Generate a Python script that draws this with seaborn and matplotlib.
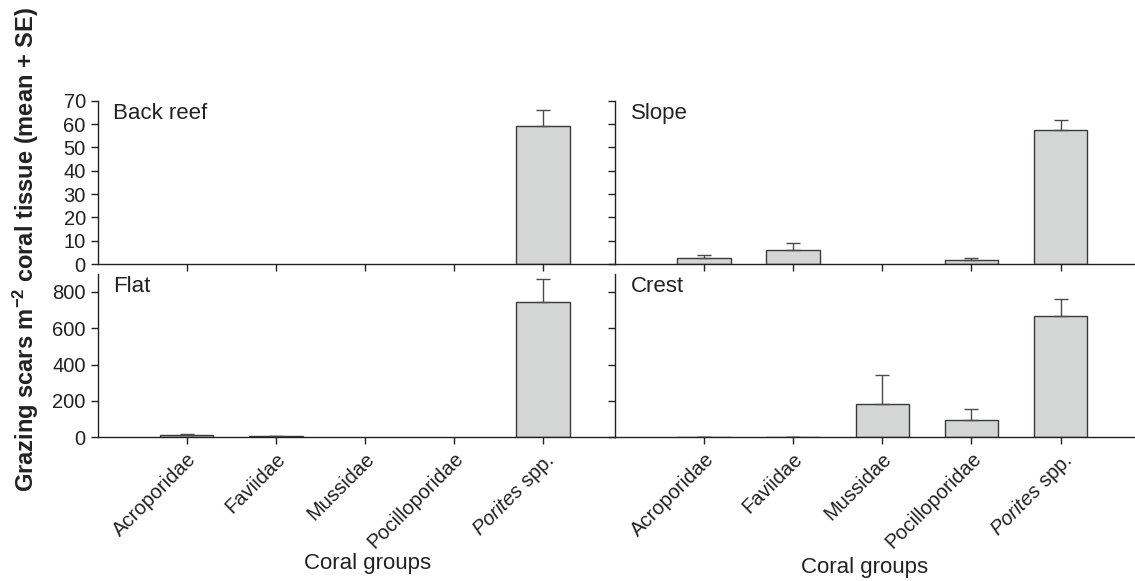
import numpy as np
import pandas as pd
import matplotlib
matplotlib.use("Agg")
import matplotlib.pyplot as plt
import seaborn as sns

# coral groups (x categories)
groups = ["Acroporidae", "Faviidae", "Mussidae", "Pocilloporidae", "Porites spp."]
tick_labels = ["Acroporidae", "Faviidae", "Mussidae", "Pocilloporidae", r"$\it{Porites}$ spp."]

# grazing scars m-2 coral tissue, mean and SE, per reef zone
back_reef_mean = [0, 0, 0, 0, 59]
back_reef_se = [0, 0, 0, 0, 7]
slope_mean = [2.4, 6.0, 0, 1.6, 57.6]
slope_se = [1.3, 2.9, 0, 1.1, 4.3]
flat_mean = [11, 5, 0, 0, 742]
flat_se = [7, 3, 0, 0, 127]
crest_mean = [3, 2, 185, 95, 668]
crest_se = [1, 1, 155, 61, 92]

panels = [
    ("Back reef", back_reef_mean, back_reef_se),
    ("Slope", slope_mean, slope_se),
    ("Flat", flat_mean, flat_se),
    ("Crest", crest_mean, crest_se),
]

sns.set_style("ticks")
plt.rcParams["font.family"] = ["Liberation Sans", "DejaVu Sans"]
plt.rcParams["mathtext.fontset"] = "custom"
plt.rcParams["mathtext.it"] = "Liberation Sans:italic"
plt.rcParams["mathtext.rm"] = "Liberation Sans"
plt.rcParams["mathtext.bf"] = "Liberation Sans:bold"

W, H = 1135, 581
fig = plt.figure(figsize=(W / 100, H / 100), dpi=100)

# axes boxes in pixels: left, top, right, bottom
boxes = [
    (97.6, 100.7, 615, 264),
    (615, 100.7, 1135, 264),
    (97.6, 273.5, 615, 437.3),
    (615, 273.5, 1135, 437.3),
]

bar_color = "#d4d6d5"
edge_color = "#3a3a3a"
err_color = "#4a4a4a"

for i, (name, mean, se) in enumerate(panels):
    l, t, r, b = boxes[i]
    ax = fig.add_axes([l / W, 1 - b / H, (r - l) / W, (b - t) / H])
    df = pd.DataFrame({"group": groups, "mean": mean, "se": se})
    sns.barplot(data=df, x="group", y="mean", order=groups, ax=ax,
                color=bar_color, edgecolor=edge_color, linewidth=1.0,
                width=0.6, errorbar=None, saturation=1)
    # hide outlines of empty bars
    for p, v in zip(ax.patches, mean):
        if v == 0:
            p.set_visible(False)
    x = np.arange(len(groups))
    m = np.array(mean, dtype=float)
    s = np.array(se, dtype=float)
    show = m > 0
    ax.errorbar(x[show], m[show], yerr=[np.zeros(show.sum()), s[show]],
                fmt="none", ecolor=err_color, elinewidth=1.0, capsize=5, capthick=1.0)

    ax.set_xlim(-1, (r - l) / 89.1 - 1)
    top = i < 2
    left = i % 2 == 0
    if top:
        ax.set_ylim(0, 70)
        ax.set_yticks(range(0, 71, 10))
        ax.tick_params(axis="x", labelbottom=False)
    else:
        ax.set_ylim(0, 900)
        ax.set_yticks(range(0, 801, 200))
        ax.set_xticks(x)
        ax.set_xticklabels(tick_labels, rotation=45, ha="right",
                           rotation_mode="anchor", fontsize=14.5)
    if not left:
        ax.tick_params(axis="y", labelleft=False)
    ax.tick_params(axis="both", direction="out", length=5, width=1, colors="#222222",
                   labelsize=14.5)
    ax.set_xlabel("")
    ax.set_ylabel("")
    for sp in ["top", "right"]:
        ax.spines[sp].set_visible(False)
    for sp in ["left", "bottom"]:
        ax.spines[sp].set_linewidth(1.0)
        ax.spines[sp].set_color("#222222")
    ax.patch.set_alpha(0)
    ax.text(0.03, 0.985, name, transform=ax.transAxes, ha="left", va="top",
            fontsize=16, color="#222222")

fig.text(368 / W, 1 - 563 / H, "Coral groups", ha="center", va="center",
         fontsize=16, color="#222222")
fig.text(865 / W, 1 - 567 / H, "Coral groups", ha="center", va="center",
         fontsize=16, color="#222222")
fig.text(26 / W, 1 - 250 / H, r"Grazing scars m$^{\mathbf{-2}}$ coral tissue (mean + SE)",
         rotation=90, ha="center", va="center", fontsize=17, fontweight="bold",
         color="#222222")

plt.savefig("out.png", dpi=100)
